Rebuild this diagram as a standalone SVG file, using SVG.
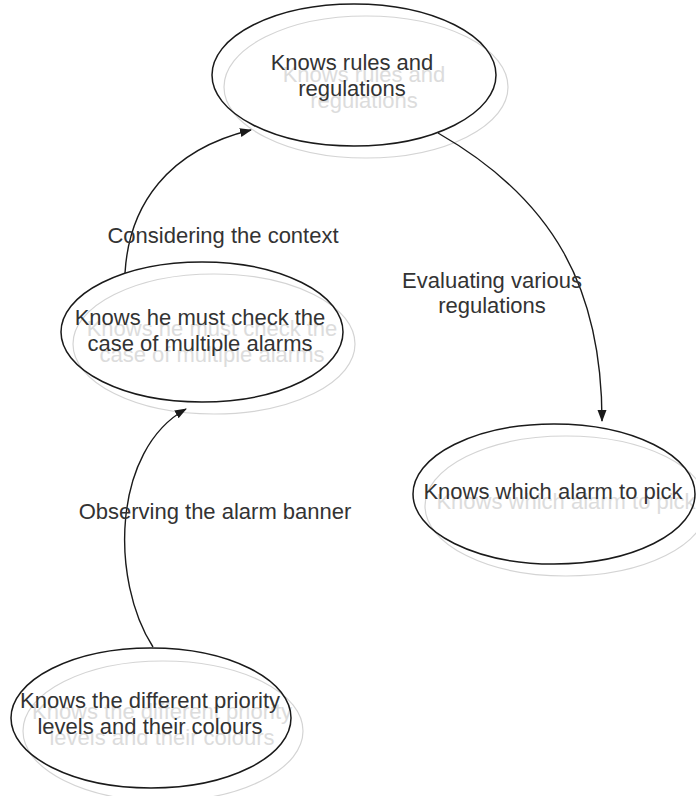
<svg xmlns="http://www.w3.org/2000/svg" width="696" height="796" viewBox="0 0 696 796">
  <style>
    .shape { fill: none; stroke: #1a1a1a; stroke-width: 1.5; }
    .shadow { fill: none; stroke: #d4d4d4; stroke-width: 1.2; }
    .label { font-family: "Liberation Sans", Arial, sans-serif; font-size: 22px; fill: #333333; text-anchor: middle; }
    .ghost { font-family: "Liberation Sans", Arial, sans-serif; font-size: 22px; fill: #dcdcdc; text-anchor: middle; }
    .edge { fill: none; stroke: #1a1a1a; stroke-width: 1.4; marker-end: url(#arrow); }
  </style>
  <defs>
    <marker id="arrow" markerUnits="userSpaceOnUse" markerWidth="12" markerHeight="10" refX="11" refY="4.5" orient="auto">
      <path d="M0,0 L12,4.5 L0,9 z" fill="#1a1a1a"/>
    </marker>
  </defs>
  <rect width="696" height="796" fill="#ffffff"/>

  <!-- node: rules and regulations -->
  <g id="node-rules">
    <ellipse class="shadow" cx="366" cy="87" rx="142" ry="71"/>
    <text class="ghost" x="364" y="82">Knows rules and</text>
    <text class="ghost" x="364" y="108">regulations</text>
    <ellipse class="shape" cx="354" cy="75" rx="142" ry="71"/>
    <text class="label" x="352" y="70">Knows rules and</text>
    <text class="label" x="352" y="96">regulations</text>
  </g>

  <!-- node: multiple alarms -->
  <g id="node-multiple">
    <ellipse class="shadow" cx="214" cy="344" rx="141" ry="70"/>
    <text class="ghost" x="212" y="336">Knows he must check the</text>
    <text class="ghost" x="212" y="362">case of multiple alarms</text>
    <ellipse class="shape" cx="202" cy="332" rx="141" ry="70"/>
    <text class="label" x="200" y="325">Knows he must check the</text>
    <text class="label" x="200" y="351">case of multiple alarms</text>
  </g>

  <!-- node: which alarm to pick -->
  <g id="node-pick">
    <ellipse class="shadow" cx="566" cy="506" rx="141" ry="70"/>
    <text class="ghost" x="566" y="509">Knows which alarm to pick</text>
    <ellipse class="shape" cx="554" cy="494" rx="141" ry="70"/>
    <text class="label" x="553" y="499">Knows which alarm to pick</text>
  </g>

  <!-- node: priority levels -->
  <g id="node-priority">
    <ellipse class="shadow" cx="163" cy="731" rx="140" ry="70"/>
    <text class="ghost" x="162" y="719">Knows the different priority</text>
    <text class="ghost" x="162" y="745">levels and their colours</text>
    <ellipse class="shape" cx="151" cy="718" rx="140" ry="70"/>
    <text class="label" x="150" y="708">Knows the different priority</text>
    <text class="label" x="150" y="734">levels and their colours</text>
  </g>

  <!-- connectors and their labels -->
  <g id="connectors">
    <path class="edge" d="M125,273 C129,205 168,150 251,130"/>
    <text class="label" x="223" y="243">Considering the context</text>

    <path class="edge" d="M438,133 C555,200 602,290 602,421"/>
    <text class="label" x="492" y="288">Evaluating various</text>
    <text class="label" x="492" y="313">regulations</text>

    <path class="edge" d="M153,647 C110,580 112,450 186,409"/>
    <text class="label" x="215" y="519">Observing the alarm banner</text>
  </g>
</svg>
